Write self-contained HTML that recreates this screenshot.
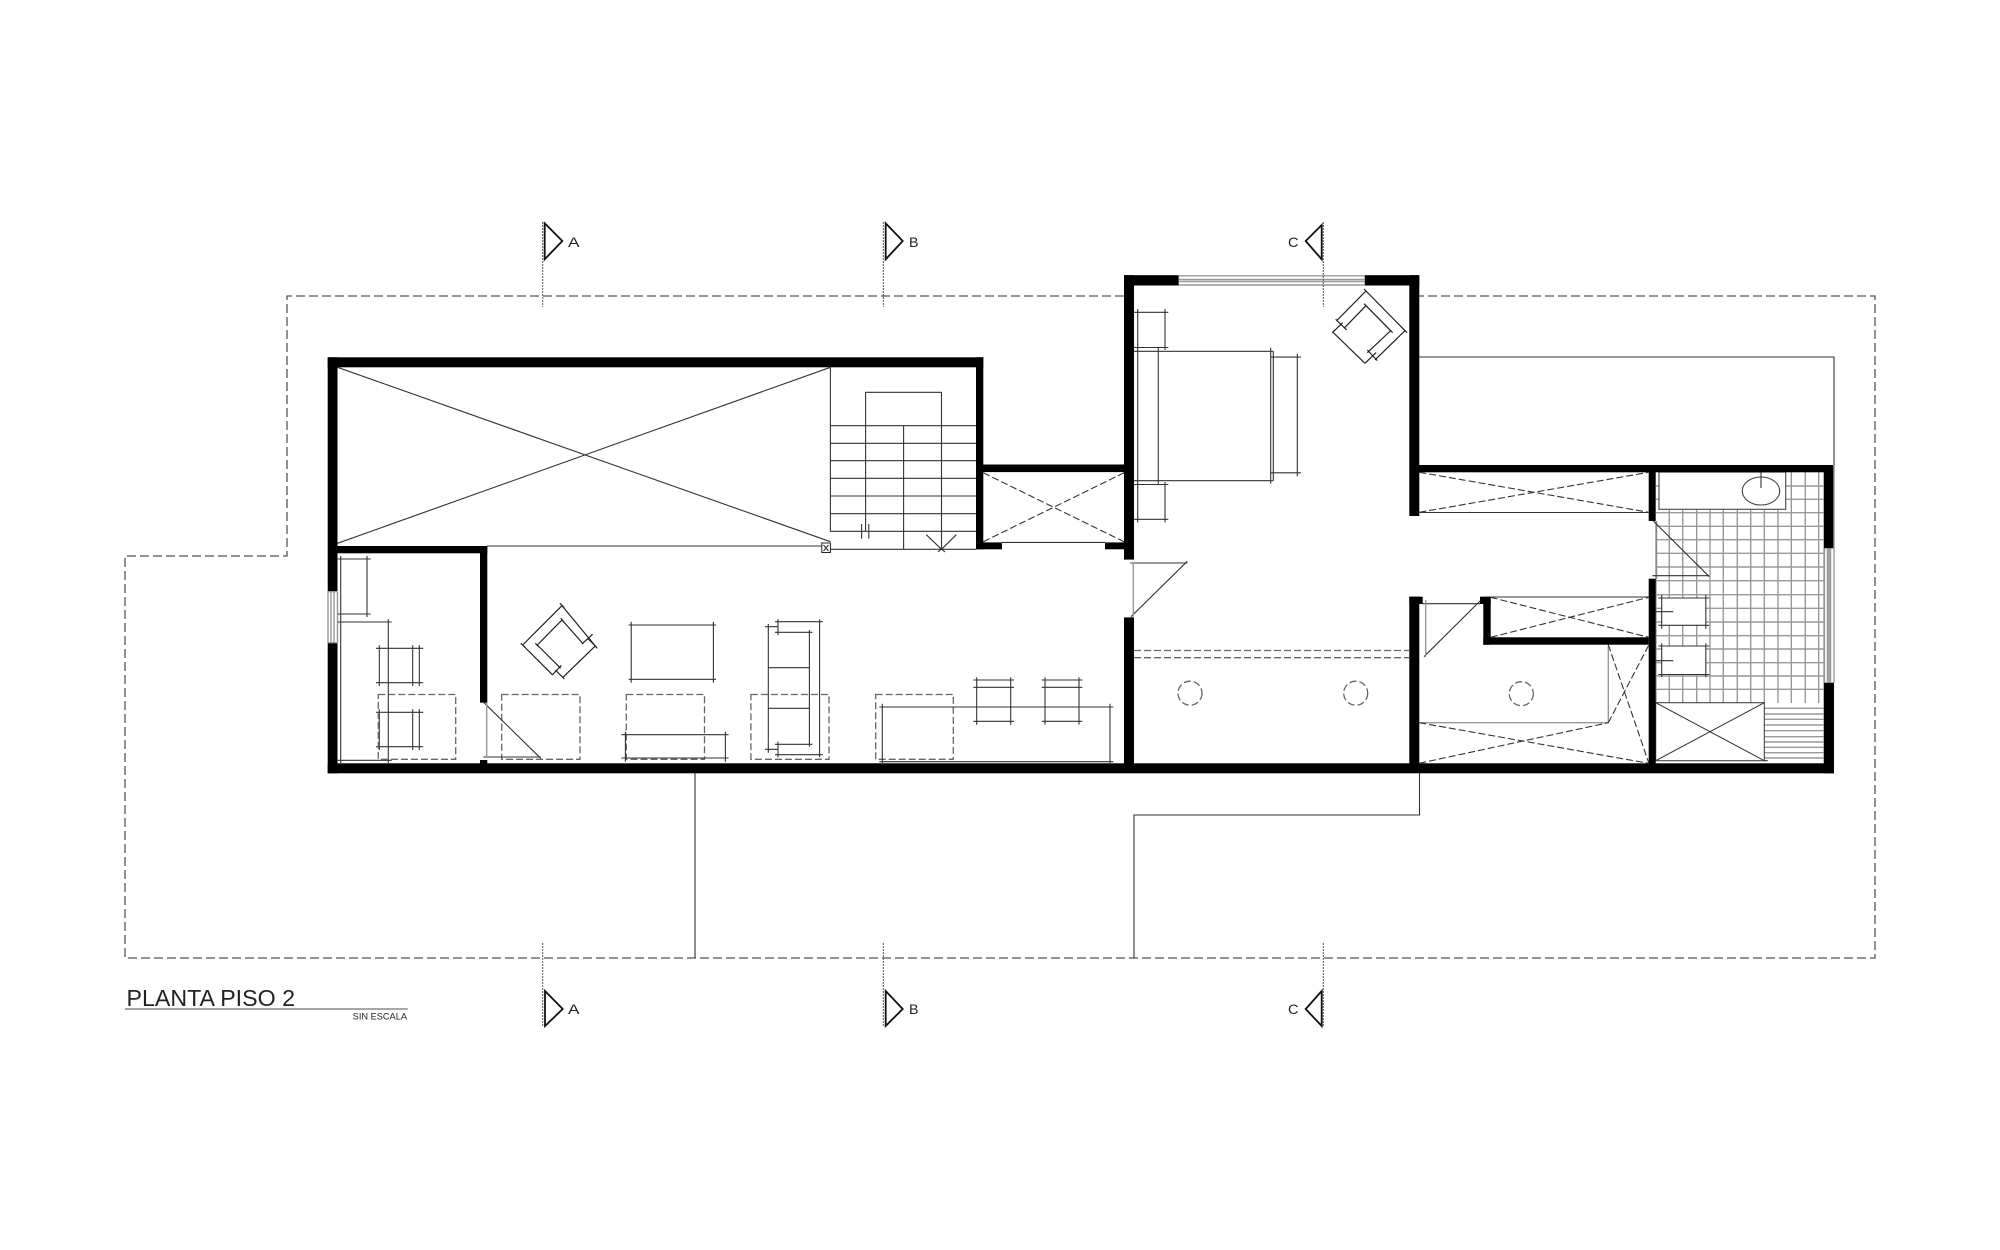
<!DOCTYPE html>
<html><head><meta charset="utf-8"><style>
html,body{margin:0;padding:0;background:#fff;width:2000px;height:1250px;overflow:hidden}
svg{display:block}
.t{fill:none;stroke:#333;stroke-width:1.1}
.g{fill:none;stroke:#999;stroke-width:1.4}
.d{fill:none;stroke:#555;stroke-width:1.3;stroke-dasharray:9 4}
.e{fill:none;stroke:#666;stroke-width:1.3;stroke-dasharray:7 3}
.x{fill:none;stroke:#333;stroke-width:1.1;stroke-dasharray:7 3}
.dot{fill:none;stroke:#555;stroke-width:1;stroke-dasharray:2 1}
.s{fill:none;stroke:#111;stroke-width:1.8}
text{font-family:"Liberation Sans",sans-serif;fill:#222}
</style></head><body>
<svg width="2000" height="1250" viewBox="0 0 2000 1250" xmlns="http://www.w3.org/2000/svg">
<rect width="2000" height="1250" fill="#fff"/>

<!-- perimeter dashed -->
<path class="d" d="M1124 296H287V556H125V958H1875V296H1419"/>
<!-- solid outline lines -->
<path class="t" d="M1419 357H1834V465M695 773V958M1419.5 773V815H1134V958"/>

<!-- tile grid -->
<path class="g" d="M1669.3 472V703M1682.7 472V703M1696.7 472V703M1710 472V703M1723.3 472V703M1737.3 472V703M1750.7 472V703M1764.3 472V703M1778 472V703M1791.3 472V703M1805.3 472V703M1818.7 472V703M1656 521V703
M1656 486H1824M1656 499.3H1824M1656 512.7H1824M1656 526.3H1824M1656 539.7H1824M1656 553.3H1824M1656 567H1824M1656 580.7H1824M1656 594.7H1824M1656 608.3H1824M1656 622H1824M1656 635.7H1824M1656 649H1824M1656 662.7H1824M1656 676H1824M1656 689.3H1824"/>
<path class="g" stroke-width="1" d="M1764.3 708.3H1824M1764.3 714H1824M1764.3 719.3H1824M1764.3 725H1824M1764.3 730.7H1824M1764.3 736.7H1824M1764.3 742H1824M1764.3 747.3H1824M1764.3 752.7H1824M1764.3 758H1824"/>
<path class="g" d="M1824 472V763"/>

<!-- bath fixtures -->
<rect x="1659" y="472" width="126.7" height="37.3" fill="#fff" stroke="#555" stroke-width="1.2"/>
<ellipse cx="1761" cy="491" rx="18.7" ry="14" fill="none" stroke="#444" stroke-width="1.1"/>
<path class="t" d="M1761 472V488"/>
<rect x="1661.7" y="598" width="44.3" height="27.3" fill="#fff"/>
<rect x="1661.7" y="646" width="44.3" height="28" fill="#fff"/>
<path class="t" stroke-width="1.2" d="M1658.3 598H1709.3M1658.3 625.3H1709.3M1661.7 595V628.7M1705.8 595V628.7M1655.7 611.7H1673.3M1658.3 646H1709.3M1658.3 674.5H1709.3M1661.7 643.3V677.3M1705.8 643.3V677.3M1655.7 660.7H1673.3"/>
<rect x="1655.7" y="702.7" width="108.6" height="58" fill="#fff" stroke="#444" stroke-width="1.1"/>
<path class="t" d="M1655.7 702.7L1764.3 760.7M1655.7 760.7L1764.3 702.7M1764 760.7H1767.7"/>
<rect x="1655.7" y="521" width="1.5" height="58" fill="#888"/>
<path class="t" d="M1653.3 521L1709.3 576.7M1652.3 575.7H1709.3"/>

<!-- walls -->
<g fill="#000">
<rect x="327.7" y="357.3" width="655.6" height="10"/>
<rect x="327.7" y="357.3" width="9.8" height="234.4"/>
<rect x="327.7" y="642.7" width="9.8" height="130.6"/>
<rect x="327.7" y="763.3" width="1506.3" height="10"/>
<rect x="337" y="546" width="150.3" height="7.3"/>
<rect x="480" y="546" width="7.3" height="156.7"/>
<rect x="480" y="760" width="7.3" height="5"/>
<rect x="976" y="357.3" width="7.3" height="192"/>
<rect x="976" y="542.4" width="26" height="6.9"/>
<rect x="983" y="464.5" width="141" height="7.6"/>
<rect x="1105" y="542.4" width="19" height="6.9"/>
<rect x="1124" y="275.2" width="10" height="284.4"/>
<rect x="1124" y="617.4" width="10" height="150"/>
<rect x="1124" y="275.2" width="54.7" height="10.3"/>
<rect x="1364.7" y="275.2" width="54.6" height="10.3"/>
<rect x="1409.3" y="275.2" width="10" height="240.8"/>
<rect x="1409.3" y="596.7" width="10" height="170"/>
<rect x="1409.3" y="596.7" width="13.4" height="7.3"/>
<rect x="1419" y="465" width="415" height="7.3"/>
<rect x="1824" y="465" width="10" height="83.3"/>
<rect x="1824" y="682.7" width="10" height="90.6"/>
<rect x="1648.7" y="465" width="7" height="56"/>
<rect x="1648.7" y="578.7" width="7" height="190"/>
<rect x="1483.3" y="637.3" width="165.4" height="7.4"/>
<rect x="1483.3" y="596.7" width="7.4" height="48"/>
<rect x="1480" y="596.7" width="10.7" height="7.3"/>
</g>

<!-- windows -->
<path class="g" d="M328 591.7V642.7M331 591.7V642.7M334 591.7V642.7M337.5 591.7V642.7M328 591.7H337.5M328 642.7H337.5"/>
<path class="g" d="M1178.7 275.8H1364.7M1178.7 279.5H1364.7M1178.7 281.5H1364.7M1178.7 285H1364.7"/>
<path class="g" d="M1824.5 548.3V682.7M1827.5 548.3V682.7M1830.5 548.3V682.7M1834 465V682.7M1829 548.3V682.7"/>

<!-- void -->
<path class="t" d="M337.5 367.3L830.4 541.7M337.5 543.3L830.4 367.3M487 546H821.4M830.4 367.3V531.7M830.4 549.3H976"/>
<rect x="821.8" y="543" width="8.6" height="9.5" fill="#fff" stroke="#222" stroke-width="1"/>
<path class="t" d="M823.5 545L828.5 551M828.5 545L823.5 551"/>

<!-- stair -->
<path class="t" d="M830.4 425.7H976M830.4 443.3H976M830.4 460.7H976M830.4 478.3H976M830.4 496H976M830.4 513.7H976M830.4 531.3H976M865.6 392.3H941.5M865.6 392.3V531.3M941.5 392.3V549.3M903.6 425.7V549.3M861.6 524V538.7M868.8 524V538.7"/>
<path class="t" d="M926.3 534.7L941.5 549.3L956.3 534.7M938 546L945 552M945 546L938 552"/>

<!-- left room furniture -->
<path class="t" d="M337.7 559H370.7M337.7 614H370.7M340.7 556V763M367 556V617M337.7 622H391.7M388.3 619.3V764M337.7 760.3H391.7
M376 648.3H423.3M376 682.7H423.3M379.3 645.3V686M412.7 645.3V686M419.3 645.3V686
M376 712.3H423.3M376 746.7H423.3M379.3 709.3V750M412.7 709.3V750M419.3 709.3V750"/>
<rect class="e" x="378.3" y="694.5" width="77.4" height="64.8"/>
<rect class="e" x="501.7" y="694.5" width="78.3" height="64.8"/>
<rect class="e" x="626.3" y="694.5" width="78.2" height="64.8"/>
<rect class="e" x="750.9" y="694.5" width="78.1" height="64.8"/>
<rect class="e" x="875.7" y="694.5" width="77.6" height="64.8"/>
<path class="t" d="M484 702.7L540.7 758.3M483.3 757H540.7"/>
<path class="g" d="M486.7 703V757"/>

<!-- armchair living -->
<g transform="translate(320 540) scale(.3333)">
<path fill="none" stroke="#222" stroke-width="3.6" d="M608 315L726 197L826 318L729 412M608 315L698 405M652 315L726 240L790 312M652 315L722 385M786 312L818 283M697 405L724 376M803 295L830 322M706 390L733 417M602 310L616 322M720 190L733 203M820 312L832 325M722 234L733 247M646 310L658 322"/>
</g>

<!-- coffee table -->
<path class="t" d="M628.6 625H716M628.6 679.3H716M631.2 621.7V682.7M713.4 621.7V682.7"/>
<!-- armchair below -->
<path class="t" d="M621.4 734.7H728.6M621.4 758H728.6M625.4 731.7V761.7M725.4 731.7V761.7"/>
<!-- sofa -->
<path class="t" d="M768.3 624V752.7M809.4 630V746.7M819.6 619.3V757.3M778 619.3V635.3M778 741.7V757.3M775 621.7H822.8M775 632.3H812.5M765 626.7H778M768 667.7H809.4M768 708.3H809.4M765 749.3H778M775 744.3H812.5M775 754.7H822.8"/>
<!-- dining -->
<path class="t" d="M879.3 707H1113.3M879.3 761.7H1113.3M882.3 703.7V765M1110 703.7V765"/>
<path class="t" d="M973.3 680H1014M973.3 687.3H1014M973.3 721.3H1014M976.7 677.3V724.7M1010.7 677.3V724.7M1041.7 680H1082.3M1041.7 687.3H1082.3M1041.7 721.3H1082.3M1045 677.3V724.7M1079 677.3V724.7"/>

<!-- closet between -->
<path class="x" d="M983.3 472.8L1124 541.7M983.3 541.7L1124 472.8"/>
<path class="t" d="M1002 542.4H1105"/>

<!-- bedroom -->
<path class="t" d="M1134 312.3H1168.3M1134 347.5H1168.3M1137.7 309V522.4M1165 309V350M1134 351.3H1273.3M1134 480.7H1273.3M1158.3 347.8V483.8M1270.7 347.8V483.8M1273.3 351.3V480.7M1297.3 353.7V476.3M1270.7 357.1H1301M1270.7 472.8H1301M1134 484.5H1168.3M1134 519.3H1168.3M1165 482V522.4"/>
<g transform="translate(1270 210) scale(.3333)">
<path fill="none" stroke="#222" stroke-width="3.6" d="M200 332L288 243L405 362L315 450M187 365L285 460M222 355L288 287L362 362L292 428M197 328L230 360M292 420L322 452M218 338L187 368M285 460L318 428M282 237L294 249M399 356L411 368M282 281L294 293M356 356L368 368"/>
</g>
<path class="t" d="M1130.3 563H1187.3M1187.3 561.3L1131 616.7"/>
<path class="g" d="M1133.3 563V616.7"/>
<path class="e" d="M1134 650.5H1409M1134 657.7H1409" stroke-dasharray="9 4"/>
<circle class="e" cx="1190" cy="693.2" r="12" stroke-dasharray="6 4"/>
<circle class="e" cx="1355.7" cy="693.2" r="12" stroke-dasharray="6 4"/>
<circle class="e" cx="1521.3" cy="693.7" r="12" stroke-dasharray="6 4"/>

<!-- right closets -->
<path class="x" d="M1419.3 472.3L1648.7 512.3M1419.3 512.3L1648.7 472.3"/>
<path class="t" d="M1419.3 512.5H1648.7M1490.7 597H1648.7"/>
<path class="x" d="M1490.7 597.3L1648.7 637.3M1490.7 637.3L1648.7 597.3"/>
<path class="t" d="M1422 603.7H1480M1480 601L1424 656.7"/>
<path class="g" d="M1425.7 600V656.7"/>
<path class="g" d="M1608.3 644.7V722.7M1419.3 722.7H1608.3"/>
<path class="x" d="M1419.3 722.7L1648.7 763.3M1419.3 763.3L1608.3 722.7M1608.3 644.7L1648.7 762.7M1608.3 722.7L1648.7 645.3"/>

<!-- section markers -->
<path class="dot" d="M542.7 222V306.7M883.3 222V306.7M1323.3 222V306.7M542.7 943V1027M883.3 943V1027M1323.3 943V1027"/>
<path class="s" d="M544.7 223.3L562.3 241L544.7 259.3ZM885.7 223.3L902.7 241L885.7 259.3ZM1321.7 225L1305.7 241L1321.7 259.3ZM545 991L562.7 1009L545 1026ZM885.7 991L902.7 1009L885.7 1026ZM1321.7 991L1305.7 1009L1321.7 1026Z"/>
<g font-size="14">
<text x="568" y="247" textLength="11.5" lengthAdjust="spacingAndGlyphs">A</text>
<text x="909" y="247" textLength="9.5" lengthAdjust="spacingAndGlyphs">B</text>
<text x="1288" y="247" textLength="10.5" lengthAdjust="spacingAndGlyphs">C</text>
<text x="568" y="1014" textLength="11.5" lengthAdjust="spacingAndGlyphs">A</text>
<text x="909" y="1014" textLength="9.5" lengthAdjust="spacingAndGlyphs">B</text>
<text x="1288" y="1014" textLength="10.5" lengthAdjust="spacingAndGlyphs">C</text>
</g>

<!-- title -->
<text x="126.5" y="1006" font-size="23.5" textLength="168.5" lengthAdjust="spacingAndGlyphs">PLANTA PISO 2</text>
<path fill="none" stroke="#888" stroke-width="1.5" d="M125 1009H407.7"/>
<text x="352.7" y="1019.3" font-size="9" fill="#555" textLength="54.3" lengthAdjust="spacingAndGlyphs">SIN ESCALA</text>
</svg>
</body></html>
